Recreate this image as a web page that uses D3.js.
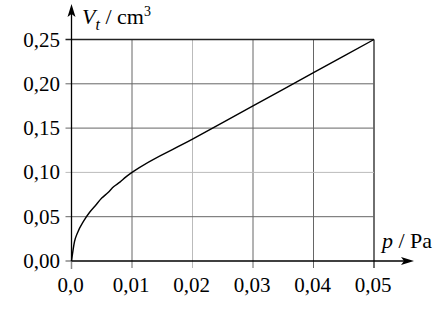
<!DOCTYPE html>
<html>
<head>
<meta charset="utf-8">
<script src="https://cdn.jsdelivr.net/npm/d3@7"></script>
<style>
  body { margin: 0; background: #fff; }
  svg text { font-family: "Liberation Serif", "Times New Roman", Times, serif; fill: #000; }
</style>
</head>
<body>
<div id="grafico"></div>
<script>
// datos
var pTicks = [0, 0.01, 0.02, 0.03, 0.04, 0.05];
var pLabels = ["0,0", "0,01", "0,02", "0,03", "0,04", "0,05"];
var vTicks = [0, 0.05, 0.10, 0.15, 0.20, 0.25];
var vLabels = ["0,00", "0,05", "0,10", "0,15", "0,20", "0,25"];
var presion = [0, 0.0005, 0.001, 0.002, 0.003, 0.004, 0.005, 0.006, 0.007, 0.008, 0.009, 0.010, 0.020, 0.030, 0.040, 0.050];
var volumen = [0, 0.022, 0.032, 0.045, 0.055, 0.063, 0.071, 0.077, 0.084, 0.089, 0.095, 0.100, 0.1375, 0.175, 0.2125, 0.250];

var ancho = 435, alto = 326;
var svg = d3.select("#grafico").append("svg")
  .attr("width", ancho).attr("height", alto)
  .attr("font-family", "'Liberation Serif', serif");

var x = d3.scaleLinear().domain([0, 0.05]).range([71.5, 374]);
var y = d3.scaleLinear().domain([0, 0.25]).range([261, 39.5]);

// rejilla
var claros = [0.02];
svg.append("g").selectAll("line").data(pTicks.slice(1))
  .enter().append("line")
  .attr("x1", d => x(d)).attr("x2", d => x(d))
  .attr("y1", y(0.25)).attr("y2", y(0) + 7)
  .attr("stroke", d => d == 0.05 ? "#222" : (claros.indexOf(d) >= 0 ? "#bbb" : "#666"))
  .attr("stroke-width", d => d == 0.05 ? 1.3 : 1);

svg.append("g").selectAll("line").data(vTicks.slice(1))
  .enter().append("line")
  .attr("x1", x(0) - 6).attr("x2", x(0.05))
  .attr("y1", d => y(d)).attr("y2", d => y(d))
  .attr("stroke", d => d == 0.25 ? "#222" : (Math.abs(d - 0.10) < 1e-9 ? "#bbb" : "#666"))
  .attr("stroke-width", d => d == 0.25 ? 1.3 : 1);

// marcas en el origen
svg.append("line").attr("x1", x(0) - 6).attr("x2", x(0)).attr("y1", y(0)).attr("y2", y(0))
  .attr("stroke", "#888").attr("stroke-width", 1.5);
svg.append("line").attr("x1", x(0)).attr("x2", x(0)).attr("y1", y(0)).attr("y2", y(0) + 8)
  .attr("stroke", "#888").attr("stroke-width", 1.5);

// ejes con flechas
svg.append("line").attr("x1", x(0)).attr("x2", x(0)).attr("y1", y(0)).attr("y2", 12)
  .attr("stroke", "#000").attr("stroke-width", 1.3);
svg.append("path").attr("d", `M${x(0)},4 L${x(0) - 4},17 L${x(0)},14 L${x(0) + 4},17 Z`).attr("fill", "#000");

svg.append("line").attr("x1", x(0)).attr("x2", 406).attr("y1", y(0)).attr("y2", y(0))
  .attr("stroke", "#000").attr("stroke-width", 1.3);
svg.append("path").attr("d", `M414,${y(0)} L401,${y(0) - 4} L404,${y(0)} L401,${y(0) + 4} Z`).attr("fill", "#000");

// etiquetas de ticks
svg.append("g").selectAll("text").data(vTicks)
  .enter().append("text")
  .attr("x", 60).attr("y", d => y(d) + 7)
  .attr("text-anchor", "end")
  .style("font-size", "21px")
  .text((d, i) => vLabels[i]);

svg.append("g").selectAll("text").data(pTicks)
  .enter().append("text")
  .attr("x", d => x(d) - 1).attr("y", 292)
  .attr("text-anchor", "middle")
  .style("font-size", "21px")
  .text((d, i) => pLabels[i]);

// titulos de ejes
var ty = svg.append("text").attr("x", 82).attr("y", 24).style("font-size", "22px");
ty.append("tspan").style("font-style", "italic").text("V");
ty.append("tspan").style("font-style", "italic").style("font-size", "16px").attr("dy", 6).text("t");
ty.append("tspan").attr("dy", -6).text(" / cm");
ty.append("tspan").style("font-size", "14px").attr("dy", -8).text("3");

var tx = svg.append("text").attr("x", 382).attr("y", 248).style("font-size", "22px");
tx.append("tspan").style("font-style", "italic").text("p");
tx.append("tspan").text(" / Pa");

// curva
var puntos = presion.map((p, i) => ({p: p, v: volumen[i]}));
var linea = d3.line().x(d => x(d.p)).y(d => y(d.v)).curve(d3.curveMonotoneX);
svg.append("path").datum(puntos)
  .attr("d", linea)
  .attr("fill", "none").attr("stroke", "#000").attr("stroke-width", 1.4);
</script>
</body>
</html>
